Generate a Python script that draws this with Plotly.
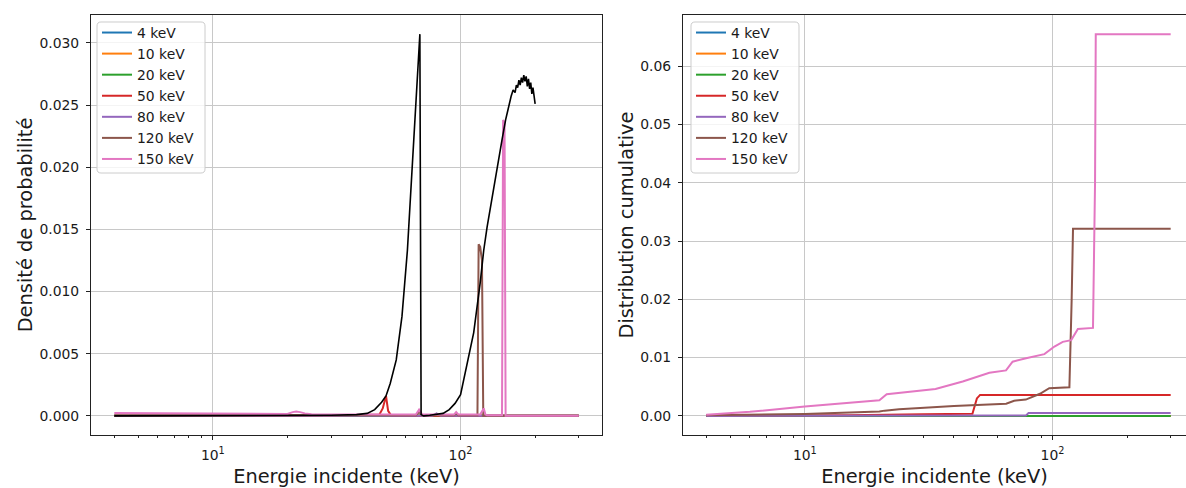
import plotly.graph_objects as go

# ---------------- data ----------------
labels = ["4 keV", "10 keV", "20 keV", "50 keV", "80 keV", "120 keV", "150 keV"]
colors = ["#1f77b4", "#ff7f0e", "#2ca02c", "#d62728", "#9467bd", "#8c564b", "#e377c2"]

# probability densities (left panel)
E_d4 = [4, 300];  d_4 = [0.0, 0.0]
E_d10 = [4, 300]; d_10 = [0.0, 0.0]
E_d20 = [4, 300]; d_20 = [0.0, 0.0]
E_d50 = [4, 30, 47, 48.5, 50, 51, 52.5, 300]
d_50 = [0.0, 0.00002, 0.0001, 0.0006, 0.0016, 0.0004, 0.0, 0.0]
E_d80 = [4, 77, 80, 83, 300]
d_80 = [0.0, 0.0, 0.0002, 0.0, 0.0]
E_d120 = [4, 60, 66, 68, 70, 94, 96, 98, 117, 118.3, 120, 122, 123.5, 300]
d_120 = [0.00003, 0.00005, 0.00005, 0.0003, 0.00005, 0.00005, 0.0002, 0.00005,
         0.00005, 0.0138, 0.0136, 0.0125, 0.0, 0.0]
E_d150 = [4, 10, 20, 21, 21.7, 22.5, 23.5, 25, 40, 66, 68, 70, 94, 96, 98,
          120, 124, 126, 128, 147, 148.5, 150.5, 152, 300]
d_150 = [0.00022, 0.0002, 0.00015, 0.0003, 0.00035, 0.0003, 0.0002, 0.00012, 0.0001,
         0.0001, 0.0005, 0.0001, 0.0001, 0.0003, 0.0001, 0.0001, 0.0006, 0.0001,
         0.00005, 0.00005, 0.0238, 0.0236, 0.0, 0.0]

# reference spectrum (black curve, left panel)
E_ref = [4, 10, 20, 30, 38, 42, 45, 48, 50, 52, 55, 58, 61, 64, 66, 68.5, 69.3, 71,
         75, 80, 85, 90, 95, 100, 106, 113, 120, 124, 128, 134, 141, 147, 152, 156,
         160, 163, 166, 168, 170, 172, 174, 176, 178, 180, 182, 184, 186, 188, 190,
         192, 194, 196, 198, 200]
d_ref = [0.0, 0.0, 0.00002, 0.00005, 0.0001, 0.0002, 0.0005, 0.0011, 0.0016, 0.0026,
         0.0045, 0.0080, 0.0133, 0.0205, 0.0250, 0.0307, 0.0001, 0.0, 0.00005, 0.00012,
         0.0002, 0.0005, 0.0010, 0.0017, 0.0040, 0.0067, 0.0107, 0.0133, 0.0152, 0.0176,
         0.0200, 0.0222, 0.0238, 0.0248, 0.0257, 0.0262, 0.0260, 0.0266, 0.0264, 0.0270,
         0.0266, 0.0272, 0.0268, 0.0274, 0.0269, 0.0273, 0.0265, 0.0271, 0.0263, 0.0268,
         0.0259, 0.0264, 0.0255, 0.0251]

# cumulative distributions (right panel)
E_c4 = [4, 300];  c_4 = [0.0, 0.0]
E_c10 = [4, 300]; c_10 = [0.0, 0.0]
E_c20 = [4, 300]; c_20 = [0.0, 0.0]
E_c50 = [4, 15, 30, 47.5, 49.5, 51, 300]
c_50 = [0.00005, 0.0001, 0.0003, 0.00035, 0.0030, 0.0036, 0.0036]
E_c80 = [4, 78, 80, 300]
c_80 = [0.0, 0.00005, 0.0005, 0.0005]
E_c120 = [4, 10, 20, 21, 24, 40, 65, 70, 78, 89, 97, 117, 119.5, 121, 300]
c_120 = [0.0001, 0.00034, 0.00074, 0.0009, 0.00114, 0.0017, 0.0021, 0.0026, 0.0028,
         0.0038, 0.00475, 0.0049, 0.02, 0.0321, 0.0321]
E_c150 = [4, 6, 10, 15, 20, 21.4, 25.5, 33.7, 43.4, 50.7, 55.6, 64.9, 69, 78.2, 92.7,
          101.8, 110, 119, 126.6, 145.7, 148.5, 149.5, 300]
c_150 = [0.0002, 0.0007, 0.0016, 0.0022, 0.0027, 0.0037, 0.0040, 0.0046, 0.0059, 0.0069,
         0.0074, 0.0078, 0.0093, 0.0099, 0.0106, 0.0119, 0.0127, 0.0130, 0.0149, 0.0151,
         0.04, 0.0655, 0.0655]

dens_E = [E_d4, E_d10, E_d20, E_d50, E_d80, E_d120, E_d150]
dens_V = [d_4, d_10, d_20, d_50, d_80, d_120, d_150]
cum_E = [E_c4, E_c10, E_c20, E_c50, E_c80, E_c120, E_c150]
cum_V = [c_4, c_10, c_20, c_50, c_80, c_120, c_150]

dens_ticks = [0.0, 0.005, 0.010, 0.015, 0.020, 0.025, 0.030]
cum_ticks = [0.0, 0.01, 0.02, 0.03, 0.04, 0.05, 0.06]
x_major = [10, 100]
x_major_text = ["10<sup>1</sup>", "10<sup>2</sup>"]
x_minor = [4, 5, 6, 7, 8, 9, 20, 30, 40, 50, 60, 70, 80, 90, 200, 300]

# ---------------- figure ----------------
W, H = 1186, 488
FONT = "DejaVu Sans"
TXT = "#1a1a1a"
TICK_SIZE = 13.9
LABEL_SIZE = 19.4
fig = go.Figure()

for lab, col, ex, vy in zip(labels, colors, dens_E, dens_V):
    fig.add_trace(go.Scatter(x=ex, y=vy, mode="lines", name=lab,
                             line=dict(color=col, width=2), xaxis="x", yaxis="y",
                             legend="legend"))
fig.add_trace(go.Scatter(x=E_ref, y=d_ref, mode="lines", showlegend=False,
                         line=dict(color="black", width=1.6), xaxis="x", yaxis="y"))

for lab, col, ex, vy in zip(labels, colors, cum_E, cum_V):
    fig.add_trace(go.Scatter(x=ex, y=vy, mode="lines", name=lab,
                             line=dict(color=col, width=2), xaxis="x2", yaxis="y2",
                             legend="legend2"))

def px_x(p):
    return p / W

def px_y(p):
    return 1 - p / H

def rounded_box(x0, y0, x1, y1, r=4):
    pts = [
        ("M", x0 + r, y0), ("L", x1 - r, y0), ("Q", x1, y0, x1, y0 + r),
        ("L", x1, y1 - r), ("Q", x1, y1, x1 - r, y1), ("L", x0 + r, y1),
        ("Q", x0, y1, x0, y1 - r), ("L", x0, y0 + r), ("Q", x0, y0, x0 + r, y0),
    ]
    s = ""
    for p in pts:
        cmd, coords = p[0], p[1:]
        xy = []
        for i in range(0, len(coords), 2):
            xy.append(f"{px_x(coords[i]):.5f},{px_y(coords[i + 1]):.5f}")
        s += cmd + " ".join(xy) + " "
    return s + "Z"

ydom = [px_y(435), px_y(15)]
common_x = dict(type="log", tickmode="array", tickvals=x_major, ticktext=x_major_text,
                showgrid=True, gridcolor="#c8c8c8", gridwidth=1,
                showline=True, linecolor="#222", linewidth=1, zeroline=False,
                ticks="outside", ticklen=4, tickcolor="#222", ticklabelstandoff=3,
                minor=dict(tickmode="array", tickvals=x_minor, ticks="outside",
                           ticklen=2, tickcolor="#222", showgrid=False),
                tickfont=dict(family=FONT, size=TICK_SIZE, color=TXT),
                title=dict(text="Energie incidente (keV)",
                           font=dict(family=FONT, size=LABEL_SIZE, color=TXT), standoff=11))
common_y = dict(showgrid=True, gridcolor="#c8c8c8", gridwidth=1,
                showline=True, linecolor="#222", linewidth=1, zeroline=False,
                ticks="outside", ticklen=4, tickcolor="#222", ticklabelstandoff=4,
                tickfont=dict(family=FONT, size=TICK_SIZE, color=TXT))

leg = dict(bgcolor="rgba(0,0,0,0)", borderwidth=0,
           font=dict(family=FONT, size=TICK_SIZE, color=TXT), xanchor="left",
           yanchor="top", itemwidth=30, tracegroupgap=0)

shapes = [
    dict(type="path", xref="paper", yref="paper", layer="above",
         path=rounded_box(97, 22, 205, 173), fillcolor="rgba(255,255,255,0.8)",
         line=dict(color="#cccccc", width=1)),
    dict(type="path", xref="paper", yref="paper", layer="above",
         path=rounded_box(691, 22, 799, 173), fillcolor="rgba(255,255,255,0.8)",
         line=dict(color="#cccccc", width=1)),
]

fig.update_layout(
    width=W, height=H, margin=dict(l=0, r=0, t=0, b=0),
    paper_bgcolor="white", plot_bgcolor="white",
    xaxis=dict(domain=[px_x(91), px_x(602)], range=[0.508, 2.571], anchor="y",
               mirror=True, **common_x),
    yaxis=dict(domain=ydom, range=[-0.00154, 0.03224], anchor="x", mirror=True,
               tickvals=dens_ticks, tickformat=".3f",
               title=dict(text="Densité de probabilité",
                          font=dict(family=FONT, size=LABEL_SIZE, color=TXT), standoff=1),
               **common_y),
    xaxis2=dict(domain=[px_x(683), 1.0], range=[0.508, 2.539], anchor="y2",
                mirror=True, **common_x),
    yaxis2=dict(domain=ydom, range=[-0.00328, 0.0688], anchor="x2", mirror=False,
                tickvals=cum_ticks, tickformat=".2f",
                title=dict(text="Distribution cumulative",
                           font=dict(family=FONT, size=LABEL_SIZE, color=TXT), standoff=1),
                **common_y),
    legend=dict(x=px_x(97), y=px_y(17), **leg),
    legend2=dict(x=px_x(691), y=px_y(17), **leg),
    shapes=shapes,
)

fig.write_html("out.html", post_script="document.body.style.margin='0';",
               config={"displayModeBar": False})
